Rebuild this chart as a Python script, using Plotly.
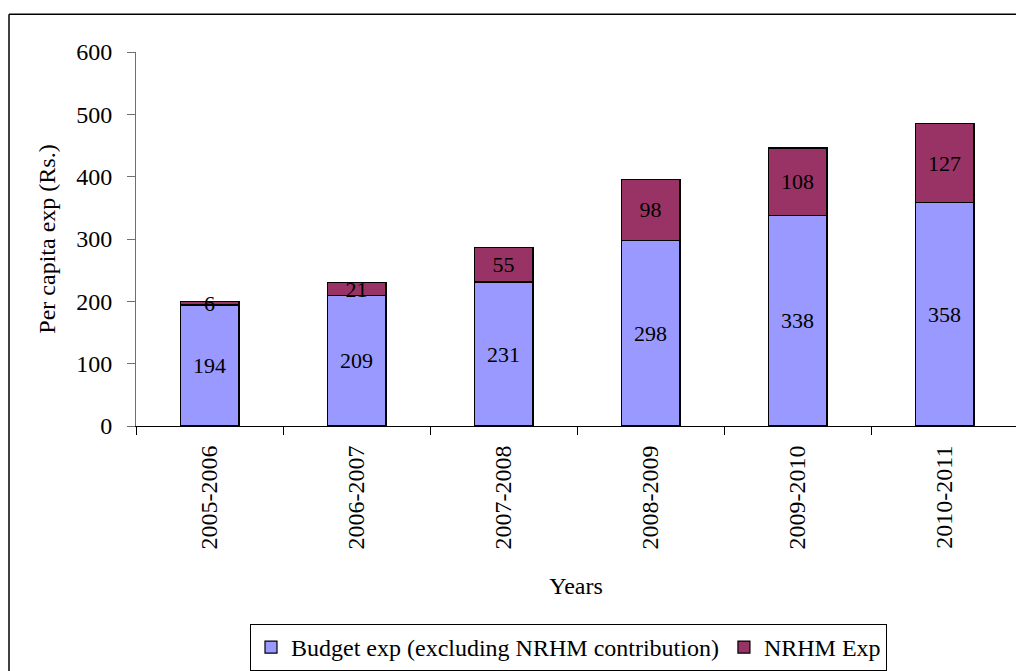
import plotly.graph_objects as go

years = ["2005-2006", "2006-2007", "2007-2008", "2008-2009", "2009-2010", "2010-2011"]
budget_exp = [194, 209, 231, 298, 338, 358]
nrhm_exp = [6, 21, 55, 98, 108, 127]
y_ticks = [0, 100, 200, 300, 400, 500, 600]

FONT = "Liberation Serif"
W, H = 1016, 671
L, R, T, B = 136, 0, 52, 243
pw = W - L - R
ph = H - T - B

fig = go.Figure()
for vals, name, color in [(budget_exp, "Budget exp (excluding NRHM contribution)", "#9999FF"),
                          (nrhm_exp, "NRHM Exp", "#993366")]:
    fig.add_trace(go.Bar(
        x=years, y=vals, name=name,
        marker=dict(color=color, line=dict(color="black", width=1.2)),
        text=vals, textposition="inside", insidetextanchor="middle",
        constraintext="none", textangle=0, cliponaxis=False,
        textfont=dict(family=FONT, size=22, color="black"),
        width=0.4,
    ))

def px_x(x):
    return (x - L) / pw

def px_y(y):
    return (H - B - y) / ph

fig.update_layout(
    barmode="stack",
    width=W, height=H,
    margin=dict(l=L, r=R, t=T, b=B, pad=0),
    paper_bgcolor="white", plot_bgcolor="white",
    font=dict(family=FONT, size=24, color="black"),
    showlegend=True,
    legend=dict(
        orientation="h", x=px_x(250), y=px_y(627), xanchor="left", yanchor="top",
        bordercolor="black", borderwidth=1, font=dict(family=FONT, size=24),
        traceorder="normal", tracegroupgap=0,
    ),
    xaxis=dict(
        type="category", range=[-0.5, 5.486],
        showline=True, linecolor="black", linewidth=1,
        ticks="outside", tickson="boundaries", ticklen=8, tickcolor="black",
        tickangle=-90, tickfont=dict(family=FONT, size=24), ticklabelstandoff=9,
        title=dict(text="Years", font=dict(family=FONT, size=24), standoff=28),
        showgrid=False,
    ),
    yaxis=dict(
        range=[0, 600], tickvals=y_ticks,
        showline=True, linecolor="#707070", linewidth=1,
        ticks="outside", ticklen=8, tickcolor="#707070",
        tickfont=dict(family=FONT, size=24), ticklabelstandoff=10,
        title=dict(text="Per capita exp (Rs.)", font=dict(family=FONT, size=24), standoff=13),
        showgrid=False, zeroline=False,
    ),
    shapes=[
        dict(type="line", xref="paper", yref="paper",
             x0=px_x(9), x1=px_x(9), y0=px_y(H + 5), y1=px_y(14),
             line=dict(color="black", width=1.5)),
        dict(type="line", xref="paper", yref="paper",
             x0=px_x(9), x1=px_x(W + 5), y0=px_y(14), y1=px_y(14),
             line=dict(color="black", width=1.5)),
    ],
)

fig.write_html("out.html", config={"displayModeBar": False},
               post_script="document.body.style.margin='0';document.body.style.overflow='hidden';")
